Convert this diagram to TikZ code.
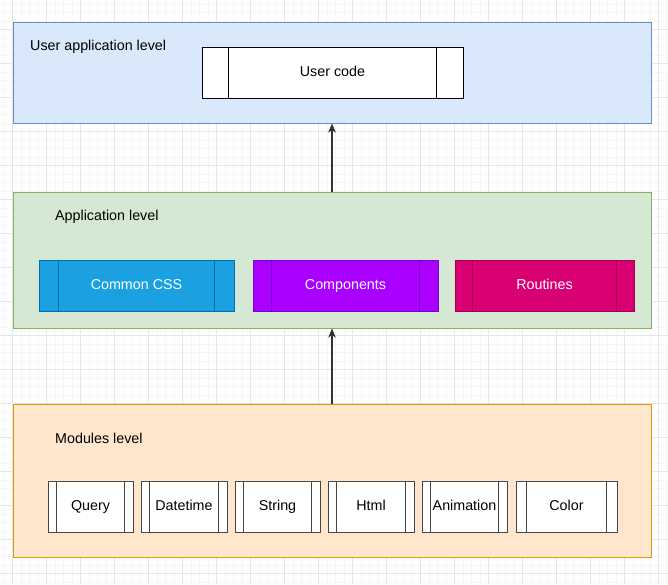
\documentclass[tikz,border=0pt]{standalone}
\usepackage{fontspec}
\setmainfont{Liberation Sans}
\usepackage{tikz}
\usetikzlibrary{arrows.meta,calc,positioning}
\definecolor{gridminor}{RGB}{246,246,246}
\definecolor{gridmajor}{RGB}{230,230,230}
\definecolor{userfill}{HTML}{DAE8FC}
\definecolor{userline}{HTML}{6C8EBF}
\definecolor{appfill}{HTML}{D5E8D4}
\definecolor{appline}{HTML}{82B366}
\definecolor{modfill}{HTML}{FFE6CC}
\definecolor{modline}{HTML}{D79B00}
\definecolor{cssfill}{HTML}{1BA1E2}
\definecolor{cssline}{HTML}{006EAF}
\definecolor{compfill}{HTML}{AA00FF}
\definecolor{compline}{HTML}{7700CC}
\definecolor{routfill}{HTML}{D80073}
\definecolor{routline}{HTML}{A50040}
\definecolor{boxline}{RGB}{70,70,70}
\definecolor{arrowgray}{RGB}{50,50,50}

\begin{document}
\begin{tikzpicture}[x=1pt,y=-1pt,font=\fontsize{14.3}{16}\selectfont,
  level/.style={draw,line width=1pt,minimum width=638pt,inner sep=0pt},
  levellabel/.style={anchor=west,inner sep=0pt},
  procbox/.style={draw,line width=1pt,minimum height=51pt,inner sep=0pt,
    text height=10pt,text depth=3pt,
    path picture={
      \draw[line width=1pt]
        ($(path picture bounding box.north west)!0.1!(path picture bounding box.north east)$)
        -- ($(path picture bounding box.south west)!0.1!(path picture bounding box.south east)$);
      \draw[line width=1pt]
        ($(path picture bounding box.north west)!0.9!(path picture bounding box.north east)$)
        -- ($(path picture bounding box.south west)!0.9!(path picture bounding box.south east)$);
    }},
  modbox/.style={procbox,draw=boxline,fill=white},
  appbox/.style={procbox,text=white},
  link/.style={-{Stealth[length=9pt,width=7.5pt,inset=2.5pt]},line width=1.2pt,arrowgray}]
  \useasboundingbox (0,0) rectangle (668,584);
  \fill[white] (0,0) rectangle (668,584);
  % background grid
  \foreach \i in {0,...,78}
    \draw[gridminor,line width=0.6pt] ({3.8+8.5*\i},0) -- ({3.8+8.5*\i},584);
  \foreach \i in {0,...,68}
    \draw[gridminor,line width=0.6pt] (0,{4.2+8.5*\i}) -- (668,{4.2+8.5*\i});
  \foreach \i in {0,...,19}
    \draw[gridmajor,line width=0.8pt] ({12.3+34*\i},0) -- ({12.3+34*\i},584);
  \foreach \i in {0,...,16}
    \draw[gridmajor,line width=0.8pt] (0,{29.7+34*\i}) -- (668,{29.7+34*\i});

  % levels
  \node[level,draw=userline,fill=userfill,minimum height=101pt] (userlvl) at (332,72.5) {};
  \node[level,draw=appline,fill=appfill,minimum height=136pt] (applvl) at (332,260) {};
  \node[level,draw=modline,fill=modfill,minimum height=153pt] (modlvl) at (332,480.5) {};
  \node[levellabel] (userlbl) at (30,47) {User application level};
  \node[levellabel] (applbl) at (55,217) {Application level};
  \node[levellabel] (modlbl) at (55,438) {Modules level};

  % user code
  \node[procbox,fill=white,minimum width=261pt] (usercode) at (332.5,72.5) {User code};

  % application parts
  \node[appbox,draw=cssline,fill=cssfill,minimum width=195pt] (css) at (136.5,285.5) {Common CSS};
  \node[appbox,draw=compline,fill=compfill,minimum width=185pt] (comp) at (345.5,285.5) {Components};
  \node[appbox,draw=routline,fill=routfill,minimum width=179pt] (rout) at (544.5,285.5) {Routines};

  % modules
  \node[modbox,minimum width=85pt] (query) at (90.5,506.5) {Query};
  \node[modbox,minimum width=86pt] (datetime) at (184,506.5) {Datetime};
  \node[modbox,minimum width=85pt] (string) at (277.5,506.5) {String};
  \node[modbox,minimum width=86pt] (html) at (371,506.5) {Html};
  \node[modbox,minimum width=85pt] (anim) at (464.5,506.5) {Animation};
  \node[modbox,minimum width=101pt] (color) at (566.5,506.5) {Color};

  \draw[link] (applvl.north) -- (userlvl.south);
  \draw[link] (modlvl.north) -- (applvl.south);
\end{tikzpicture}
\end{document}
